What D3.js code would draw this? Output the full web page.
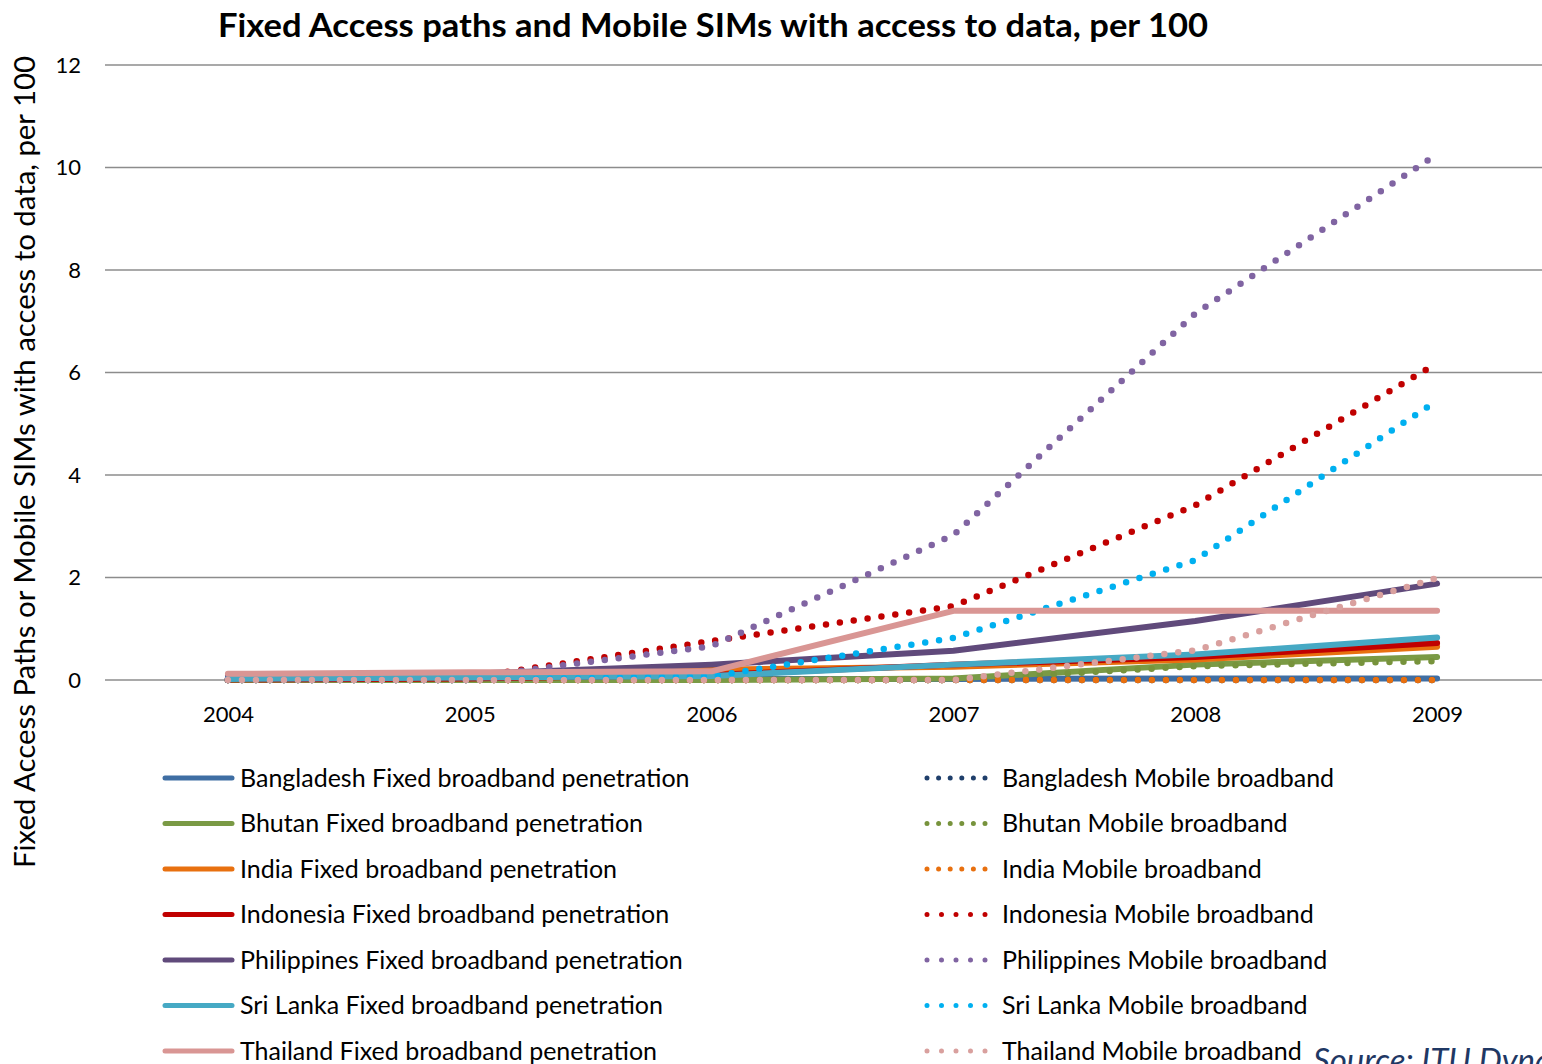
<!DOCTYPE html>
<html>
<head>
<meta charset="utf-8">
<script src="https://cdn.jsdelivr.net/npm/d3@7"></script>
<style>
  html, body { margin: 0; padding: 0; background: #fff; }
  svg { display: block; font-family: Lato, "Open Sans", sans-serif; }
</style>
</head>
<body>
<svg id="chart" width="1542" height="1064"></svg>
<script>
// Years on the category axis
const years = ["2004", "2005", "2006", "2007", "2008", "2009"];
const yTicks = [0, 2, 4, 6, 8, 10, 12];

// Fixed broadband penetration, per 100
const bangladeshFixed  = [0.01, 0.01, 0.02, 0.02, 0.03, 0.03];
const bhutanFixed      = [0.00, 0.00, 0.00, 0.03, 0.30, 0.45];
const indiaFixed       = [0.02, 0.05, 0.20, 0.26, 0.40, 0.65];
const indonesiaFixed   = [0.01, 0.03, 0.10, 0.30, 0.45, 0.72];
const philippinesFixed = [0.08, 0.12, 0.30, 0.57, 1.15, 1.88];
const sriLankaFixed    = [0.02, 0.05, 0.08, 0.30, 0.50, 0.83];
const thailandFixed    = [0.12, 0.15, 0.17, 1.35, 1.35, 1.35];

// Mobile broadband (SIMs with access to data), per 100
const bangladeshMobile  = [0.00, 0.00, 0.00, 0.00, 0.00, 0.00];
const bhutanMobile      = [0.00, 0.00, 0.00, 0.00, 0.27, 0.37];
const indiaMobile       = [0.00, 0.00, 0.00, 0.00, 0.00, 0.00];
const indonesiaMobile   = [0.00, 0.05, 0.76, 1.44, 3.41, 6.18];
const philippinesMobile = [0.02, 0.05, 0.66, 2.83, 7.15, 10.26];
const sriLankaMobile    = [0.00, 0.00, 0.07, 0.82, 2.34, 5.45];
const thailandMobile    = [0.00, 0.00, 0.00, 0.00, 0.58, 1.99];

const countries = ["Bangladesh", "Bhutan", "India", "Indonesia", "Philippines", "Sri Lanka", "Thailand"];
const fixedValues  = [bangladeshFixed, bhutanFixed, indiaFixed, indonesiaFixed, philippinesFixed, sriLankaFixed, thailandFixed];
const mobileValues = [bangladeshMobile, bhutanMobile, indiaMobile, indonesiaMobile, philippinesMobile, sriLankaMobile, thailandMobile];
const fixedColors  = ["#3F6EA3", "#7A9A45", "#E8700F", "#C00000", "#604A7B", "#46A9C4", "#D99694"];
const mobileColors = ["#1F3F6B", "#77933C", "#E8700F", "#C00000", "#8064A2", "#00B0F0", "#D9A09E"];

const titleText = "Fixed Access paths and Mobile SIMs with access to data, per 100";
const yTitleText = "Fixed Access Paths or Mobile SIMs with access to data, per 100";
const sourceText = "Source: ITU Dynamic Reports";

const svg = d3.select("#chart");

const x = d3.scalePoint().domain(years).range([107, 1558]).padding(0.5);
const y = d3.scaleLinear().domain([0, 12]).range([680, 65]);

// Title
svg.append("text")
  .attr("x", 713).attr("y", 37)
  .attr("text-anchor", "middle")
  .attr("font-weight", "bold")
  .attr("font-size", 32)
  .attr("textLength", 990)
  .attr("lengthAdjust", "spacingAndGlyphs")
  .attr("fill", "#000")
  .text(titleText);

// Horizontal gridlines
svg.append("g")
  .selectAll("line")
  .data(yTicks)
  .join("line")
  .attr("x1", 105).attr("x2", 1542)
  .attr("y1", d => y(d)).attr("y2", d => y(d))
  .attr("stroke", "#8C8C8C")
  .attr("stroke-width", 1.5);

// Y axis labels
const yAxis = d3.axisLeft(y).tickValues(yTicks).tickSize(0).tickPadding(0).tickFormat(d3.format("d"));
const yg = svg.append("g").attr("transform", "translate(81,0)").call(yAxis);
yg.select(".domain").remove();
yg.selectAll("text").attr("font-size", 22).attr("fill", "#000").attr("font-family", "Lato, sans-serif");

// X axis labels
const xAxis = d3.axisBottom(x).tickSize(0).tickPadding(0);
const xg = svg.append("g").attr("transform", "translate(0,706)").call(xAxis);
xg.select(".domain").remove();
xg.selectAll("text").attr("font-size", 22).attr("fill", "#000").attr("font-family", "Lato, sans-serif");

// Y axis title
svg.append("text")
  .attr("transform", "translate(35,462) rotate(-90)")
  .attr("text-anchor", "middle")
  .attr("font-size", 28)
  .attr("textLength", 812)
  .attr("lengthAdjust", "spacingAndGlyphs")
  .attr("fill", "#000")
  .text(yTitleText);

// Series lines: fixed solid, mobile round-dotted, interleaved per country
const line = d3.line().x((d, i) => x(years[i])).y(d => y(d));
const plot = svg.append("g");
countries.forEach((c, k) => {
  plot.append("path")
    .datum(fixedValues[k])
    .attr("d", line)
    .attr("fill", "none")
    .attr("stroke", fixedColors[k])
    .attr("stroke-width", 6)
    .attr("stroke-linejoin", "round")
    .attr("stroke-linecap", "round");
  plot.append("path")
    .datum(mobileValues[k])
    .attr("d", line)
    .attr("fill", "none")
    .attr("stroke", mobileColors[k])
    .attr("stroke-width", 6.5)
    .attr("stroke-linecap", "round")
    .attr("stroke-dasharray", "0 14");
});

// Legend: fixed series on the left column, mobile series on the right
const rowY = d => 778 + d * 45.5;
const legend = svg.append("g").attr("font-size", 25).attr("fill", "#000");
countries.forEach((c, k) => {
  legend.append("line")
    .attr("x1", 165).attr("x2", 232)
    .attr("y1", rowY(k)).attr("y2", rowY(k))
    .attr("stroke", fixedColors[k]).attr("stroke-width", 5)
    .attr("stroke-linecap", "round");
  legend.append("text")
    .attr("x", 240).attr("y", rowY(k)).attr("dy", "0.35em")
    .text(c + " Fixed broadband penetration");
  legend.append("line")
    .attr("x1", 927).attr("x2", 987)
    .attr("y1", rowY(k)).attr("y2", rowY(k))
    .attr("stroke", mobileColors[k]).attr("stroke-width", 5)
    .attr("stroke-linecap", "round")
    .attr("stroke-dasharray", k < 3 ? "0 11.6" : "0 14.5");
  legend.append("text")
    .attr("x", 1002).attr("y", rowY(k)).attr("dy", "0.35em")
    .text(c + " Mobile broadband");
});

// Source note
svg.append("text")
  .attr("x", 1313).attr("y", 1072)
  .attr("font-size", 33)
  .attr("font-style", "italic")
  .attr("fill", "#1F3864")
  .text(sourceText);
</script>
</body>
</html>
